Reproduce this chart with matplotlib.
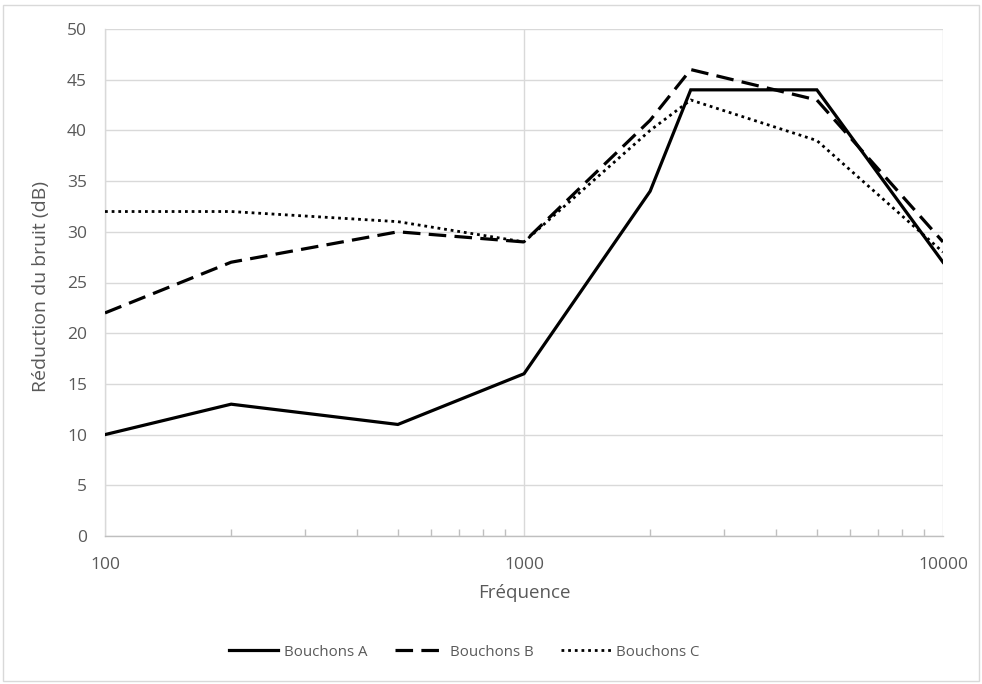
import matplotlib
matplotlib.use("Agg")
import matplotlib.pyplot as plt
from matplotlib.patches import Rectangle
from matplotlib.ticker import LogLocator, FixedLocator, NullFormatter, FuncFormatter

plt.rcParams['font.family'] = ['Open Sans', 'DejaVu Sans']

freq = [100, 200, 500, 1000, 2000, 2500, 5000, 10000]
bouchons_a = [10, 13, 11, 16, 34, 44, 44, 27]
bouchons_b = [22, 27, 30, 29, 41, 46, 43, 29]
bouchons_c = [32, 32, 31, 29, 40, 43, 39, 28]
series_names = ["Bouchons A", "Bouchons B", "Bouchons C"]
y_ticks = list(range(0, 51, 5))
x_ticks = [100, 1000, 10000]

W, H = 982, 684
fig = plt.figure(figsize=(W / 100, H / 100), dpi=100)
L, R, T, B = 105, 943, 29, 536
ax = fig.add_axes([L / W, 1 - B / H, (R - L) / W, (B - T) / H])

grid_c = "#d9d9d9"
text_c = "#595959"

ax.plot(freq, bouchons_a, color="black", lw=2.3, linestyle="-", label=series_names[0],
        solid_joinstyle="miter", zorder=3)
ax.plot(freq, bouchons_b, color="black", lw=2.3, linestyle=(0, (5.5, 2.6)), label=series_names[1],
        dash_capstyle="butt", zorder=3)
ax.plot(freq, bouchons_c, color="black", lw=2.0, linestyle=(0, (1, 1.4)), label=series_names[2],
        dash_capstyle="butt", zorder=3)

ax.set_xscale("log")
ax.set_xlim(100, 10000)
ax.set_ylim(0, 50)
ax.set_yticks(y_ticks)
ax.xaxis.set_major_locator(FixedLocator(x_ticks))
ax.xaxis.set_major_formatter(FuncFormatter(lambda v, p: f"{int(round(v))}"))
ax.xaxis.set_minor_locator(LogLocator(base=10, subs=range(2, 10)))
ax.xaxis.set_minor_formatter(NullFormatter())

ax.grid(True, which="major", axis="both", color=grid_c, lw=1.0, zorder=0)
ax.set_axisbelow(True)
ax.spines["top"].set_visible(False)
ax.spines["right"].set_visible(False)
ax.spines["left"].set_color(grid_c)
ax.spines["bottom"].set_color("#bfbfbf")
ax.spines["left"].set_linewidth(1.0)
ax.spines["bottom"].set_linewidth(1.0)

ax.tick_params(axis="y", length=0, labelsize=12.5, labelcolor=text_c, pad=13)
ax.tick_params(axis="x", which="major", length=0, labelsize=12.5, labelcolor=text_c, pad=15)
ax.tick_params(axis="x", which="minor", direction="in", length=5, color="#bfbfbf", width=1)

ax.set_xlabel("Fréquence", fontsize=13.5, color=text_c)
ax.set_ylabel("Réduction du bruit (dB)", fontsize=14, color=text_c)
ax.xaxis.set_label_coords(0.5, (B - 593) / (B - T))
ax.xaxis.label.set_va("center")
ax.yaxis.set_label_coords((41 - L) / (R - L), (B - 287) / (B - T))
ax.yaxis.label.set_va("center")

leg = fig.legend(loc="center", bbox_to_anchor=(464 / W, 1 - 652 / H), ncol=3, frameon=False,
                 fontsize=10.8, handlelength=3.3, columnspacing=1.85, handletextpad=0.35)
for t in leg.get_texts():
    t.set_color(text_c)

fig.patches.append(Rectangle((3 / W, 1 - 681 / H), (979 - 3) / W, (681 - 5) / H,
                             transform=fig.transFigure, fill=False, edgecolor="#d9d9d9", lw=1.0))

fig.savefig("out.png", dpi=100)
